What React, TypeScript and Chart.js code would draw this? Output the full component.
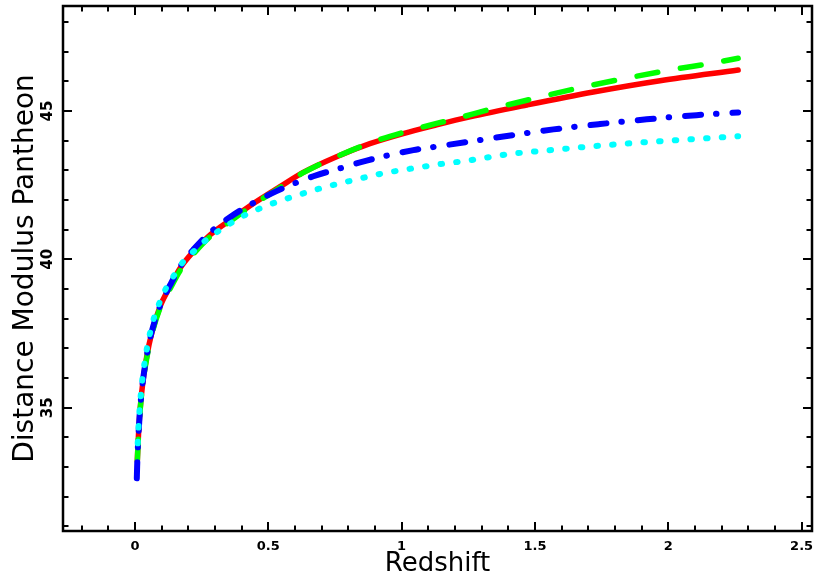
import React, { useEffect, useRef } from "react";
import { Chart, registerables } from "chart.js";

Chart.register(...registerables);

// ---- data (redshift z, distance modulus mu) ----
const zRed = [0.0087, 0.0107, 0.0134, 0.019, 0.0289, 0.0439, 0.0626, 0.0937, 0.131, 0.169, 0.219, 0.281, 0.356, 0.444, 0.544, 0.631, 0.756, 0.881, 1.006, 1.131, 1.256, 1.469, 1.719, 1.969, 2.262];
const muRed = [33.2, 33.65, 34.14, 34.92, 35.82, 36.72, 37.51, 38.4, 39.08, 39.7, 40.26, 40.82, 41.32, 41.88, 42.45, 42.93, 43.46, 43.9, 44.24, 44.53, 44.8, 45.2, 45.64, 46.02, 46.38];

const zGreen = [0.0088, 0.0107, 0.0134, 0.019, 0.0289, 0.0439, 0.0626, 0.0937, 0.131, 0.169, 0.219, 0.281, 0.356, 0.444, 0.544, 0.631, 0.756, 0.881, 1.006, 1.131, 1.206, 1.346, 1.509, 1.672, 1.84, 2.006, 2.175, 2.262];
const muGreen = [33.23, 33.63, 34.11, 34.88, 35.78, 36.66, 37.45, 38.35, 39.0, 39.62, 40.18, 40.76, 41.27, 41.84, 42.42, 42.92, 43.46, 43.92, 44.28, 44.58, 44.75, 45.09, 45.45, 45.79, 46.1, 46.38, 46.63, 46.78];

const zBlue = [0.0068, 0.008, 0.0107, 0.0134, 0.019, 0.0289, 0.0439, 0.0626, 0.0937, 0.131, 0.169, 0.219, 0.281, 0.356, 0.444, 0.531, 0.669, 0.781, 0.869, 1.044, 1.131, 1.256, 1.419, 1.569, 1.744, 1.919, 2.106, 2.262];
const muBlue = [32.62, 33.0, 33.66, 34.15, 34.94, 35.85, 36.75, 37.55, 38.42, 39.12, 39.75, 40.33, 40.9, 41.42, 41.9, 42.3, 42.8, 43.1, 43.33, 43.68, 43.8, 43.97, 44.19, 44.38, 44.56, 44.72, 44.86, 44.95];

const zCyan = [0.0102, 0.0132, 0.0166, 0.0211, 0.0273, 0.0354, 0.0447, 0.0562, 0.0724, 0.092, 0.116, 0.147, 0.181, 0.225, 0.269, 0.319, 0.369, 0.419, 0.475, 0.531, 0.694, 0.819, 0.931, 1.044, 1.169, 1.225, 1.406, 1.581, 1.756, 1.931, 2.106, 2.262];
const muCyan = [33.8, 34.36, 34.86, 35.37, 35.93, 36.49, 37.0, 37.51, 38.07, 38.54, 39.02, 39.47, 39.92, 40.31, 40.67, 40.99, 41.27, 41.52, 41.74, 41.93, 42.39, 42.67, 42.9, 43.07, 43.24, 43.3, 43.55, 43.7, 43.84, 43.96, 44.06, 44.15];

const xTickValues = [0, 0.5, 1, 1.5, 2, 2.5];
const xTickLabels = ["0", "0.5", "1", "1.5", "2", "2.5"];
const yTickValues = [35, 40, 45];
const yTickLabels = ["35", "40", "45"];
const xMinorStep = 0.1;
const yMinorStep = 1;
const xRange = [-0.27, 2.539];
const yRange = [30.844, 48.539];

const xTitle = "Redshift";
const yTitle = "Distance Modulus Pantheon";

const toPoints = (xs: number[], ys: number[]) => xs.map((x, i) => ({ x, y: ys[i] }));

const frameTicks = {
  id: "frameTicks",
  afterDraw(chart: any) {
    const { ctx, chartArea: a, scales } = chart;
    const xs = scales.x;
    const ys = scales.y;
    ctx.save();
    ctx.strokeStyle = "#000";
    ctx.lineWidth = 2;
    ctx.beginPath();
    const xTick = (v: number, len: number) => {
      const p = Math.round(xs.getPixelForValue(v));
      ctx.moveTo(p, a.bottom);
      ctx.lineTo(p, a.bottom - len);
      ctx.moveTo(p, a.top);
      ctx.lineTo(p, a.top + len);
    };
    const yTick = (v: number, len: number) => {
      const p = Math.round(ys.getPixelForValue(v));
      ctx.moveTo(a.left, p);
      ctx.lineTo(a.left + len, p);
      ctx.moveTo(a.right, p);
      ctx.lineTo(a.right - len, p);
    };
    const kx0 = Math.ceil(xs.min / xMinorStep - 1e-6);
    const kx1 = Math.floor(xs.max / xMinorStep + 1e-6);
    for (let k = kx0; k <= kx1; k++) {
      const v = k * xMinorStep;
      const major = xTickValues.some((t) => Math.abs(t - v) < 1e-6);
      xTick(v, major ? 9 : 5.5);
    }
    const ky0 = Math.ceil(ys.min / yMinorStep - 1e-6);
    const ky1 = Math.floor(ys.max / yMinorStep + 1e-6);
    for (let k = ky0; k <= ky1; k++) {
      const v = k * yMinorStep;
      const major = yTickValues.some((t) => Math.abs(t - v) < 1e-6);
      yTick(v, major ? 9 : 5.5);
    }
    ctx.stroke();
    ctx.lineWidth = 2.5;
    ctx.strokeRect(a.left, a.top, a.right - a.left, a.bottom - a.top);

    // rotated y tick labels, placed from the y scale's ticks
    ctx.fillStyle = "#000";
    ctx.font = "bold 15px 'DejaVu Sans'";
    ctx.textAlign = "center";
    ctx.textBaseline = "middle";
    ys.ticks.forEach((t: any) => {
      const idx = yTickValues.indexOf(t.value);
      const p = ys.getPixelForValue(t.value);
      ctx.save();
      ctx.translate(a.left - 15, p);
      ctx.rotate(-Math.PI / 2);
      ctx.fillText(yTickLabels[idx], 0, 0);
      ctx.restore();
    });
    ctx.restore();
  },
};

export default function App() {
  const ref = useRef<HTMLCanvasElement | null>(null);
  useEffect(() => {
    if (!ref.current) return;
    const chart = new Chart(ref.current, {
      type: "line",
      data: {
        datasets: [
          {
            label: "red",
            data: toPoints(zRed, muRed),
            borderColor: "#ff0000",
            borderWidth: 5.5,
            borderCapStyle: "round",
            pointRadius: 0,
            cubicInterpolationMode: "monotone",
            order: 4,
          },
          {
            label: "green",
            data: toPoints(zGreen, muGreen),
            borderColor: "#00ff00",
            borderWidth: 5.5,
            borderDash: [21, 23],
            borderCapStyle: "round",
            pointRadius: 0,
            cubicInterpolationMode: "monotone",
            order: 3,
          },
          {
            label: "blue",
            data: toPoints(zBlue, muBlue),
            borderColor: "#0000ff",
            borderWidth: 6,
            borderDash: [16, 15, 0.5, 16],
            borderCapStyle: "round",
            pointRadius: 0,
            cubicInterpolationMode: "monotone",
            order: 2,
          },
          {
            label: "cyan",
            data: toPoints(zCyan, muCyan),
            borderColor: "#00ffff",
            borderWidth: 6,
            borderDash: [1.5, 14.2],
            borderCapStyle: "round",
            pointRadius: 0,
            cubicInterpolationMode: "monotone",
            order: 1,
          },
        ],
      },
      options: {
        animation: false,
        responsive: false,
        maintainAspectRatio: false,
        layout: { padding: { left: 0, top: 6, right: 10, bottom: 0 } },
        plugins: { legend: { display: false }, tooltip: { enabled: false } },
        scales: {
          x: {
            type: "linear",
            min: xRange[0],
            max: xRange[1],
            afterBuildTicks: (s: any) => {
              s.ticks = xTickValues.map((v) => ({ value: v }));
            },
            afterFit: (s: any) => {
              s.height = 52;
            },
            ticks: {
              autoSkip: false,
              maxRotation: 0,
              minRotation: 0,
              padding: 8,
              color: "#000",
              font: { family: "'DejaVu Sans'", size: 13, weight: "bold" },
              callback: (v: any) => xTickLabels[xTickValues.indexOf(Number(v))],
            },
            grid: { display: false, drawTicks: false },
            border: { display: false },
            title: {
              display: true,
              text: xTitle,
              color: "#000",
              font: { family: "'DejaVu Sans'", size: 26 },
              padding: { top: 0, bottom: 3 },
            },
          },
          y: {
            type: "linear",
            min: yRange[0],
            max: yRange[1],
            afterBuildTicks: (s: any) => {
              s.ticks = yTickValues.map((v) => ({ value: v }));
            },
            afterFit: (s: any) => {
              s.width = 63;
            },
            ticks: { display: false },
            grid: { display: false, drawTicks: false },
            border: { display: false },
            title: {
              display: true,
              text: yTitle,
              color: "#000",
              font: { family: "'DejaVu Sans'", size: 28 },
              padding: { top: 9, bottom: 0 },
            },
          },
        },
      },
      plugins: [frameTicks],
    } as any);
    return () => chart.destroy();
  }, []);
  return (
    <div style={{ position: "absolute", left: 0, top: 0, width: 822, height: 583, background: "#fff" }}>
      <canvas ref={ref} width={822} height={583} style={{ display: "block", width: 822, height: 583 }} />
    </div>
  );
}
